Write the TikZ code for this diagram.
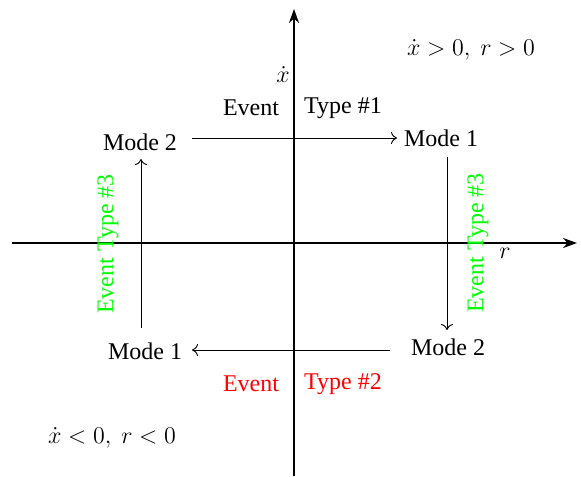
\documentclass[tikz,border=0pt]{standalone}
\usepackage{fontspec}
\setmainfont{Liberation Serif}
\usetikzlibrary{arrows.meta}
\begin{document}
\begin{tikzpicture}[x=0.5pt,y=-0.5pt,
  lbl/.style={font=\fontsize{12}{14}\selectfont, inner sep=1pt},
  axis/.style={line width=1pt,-{Stealth[length=7pt,width=5pt]}},
  trans/.style={line width=0.45pt,-{To[length=3pt,width=6pt]}}]
\useasboundingbox (0,0) rectangle (581,476);
\coordinate (xl) at (12,243);
\coordinate (xr) at (577,243);
\coordinate (yb) at (294,476);
\coordinate (yt) at (294,9);
\draw[axis] (xl) -- (xr);
\draw[axis] (yb) -- (yt);
\node[lbl] (xd) at (283,75) {$\dot{x}$};
\node[lbl] (rl) at (505,253) {$r$};
\node[lbl] (q1) at (471,50) {$\dot{x}>0,\ r>0$};
\node[lbl] (q3) at (112,438) {$\dot{x}<0,\ r<0$};
% top
\node[lbl] (e1a) at (251,108) {Event};
\node[lbl] (e1b) at (343,108) {Type \#1};
\node[lbl] (m2t) at (140,142) {Mode 2};
\node[lbl] (m1t) at (441,138) {Mode 1};
\draw[trans] (192,138) coordinate (a1) -- (397,138) coordinate (a2);
% bottom
\node[lbl] (m1b) at (145,351) {Mode 1};
\node[lbl] (m2b) at (448,347) {Mode 2};
\node[lbl,text=red] (e2a) at (251,384) {Event};
\node[lbl,text=red] (e2b) at (343,384) {Type \#2};
\draw[trans] (390,350) coordinate (b1) -- (192,350) coordinate (b2);
% right
\draw[trans] (447,157) coordinate (c1) -- (447,330) coordinate (c2);
\node[lbl,text=green,rotate=90] (e3r) at (478,243) {Event Type \#3};
% left
\draw[trans] (141,328) coordinate (d1) -- (141,159) coordinate (d2);
\node[lbl,text=green,rotate=90] (e3l) at (108,244) {Event Type \#3};
\end{tikzpicture}
\end{document}
